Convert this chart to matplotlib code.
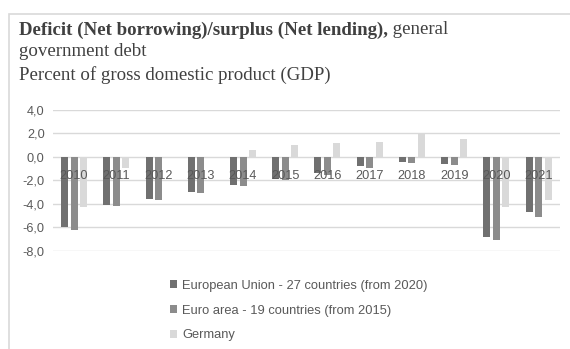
import numpy as np
import matplotlib
matplotlib.use("Agg")
import matplotlib.pyplot as plt
from matplotlib.patches import Rectangle
from matplotlib.ticker import FuncFormatter

# Government balance, % of GDP
years = ['2010', '2011', '2012', '2013', '2014', '2015',
         '2016', '2017', '2018', '2019', '2020', '2021']
eu27 = [-6.0, -4.1, -3.6, -3.0, -2.4, -1.9, -1.4, -0.8, -0.4, -0.6, -6.8, -4.7]
ea19 = [-6.2, -4.2, -3.7, -3.1, -2.5, -2.0, -1.5, -0.9, -0.5, -0.7, -7.1, -5.1]
germany = [-4.3, -0.9, 0.0, 0.0, 0.6, 1.0, 1.2, 1.3, 2.0, 1.5, -4.3, -3.7]

labels = ['European Union - 27 countries (from 2020)',
          'Euro area - 19 countries (from 2015)',
          'Germany']
colors = ['#707070', '#8c8c8c', '#d9d9d9']
text_gray = '#595959'
title_size = 13.6

fig = plt.figure(figsize=(5.7, 3.49), dpi=100)
ax = fig.add_axes([0.093, 0.281, 0.889, 0.404])

x = np.arange(len(years))
step = 0.225
width = 0.166
series = [eu27, ea19, germany]
for k, vals in enumerate(series):
    ax.bar(x + (k - 1) * step, vals, width, color=colors[k], label=labels[k], zorder=3)

ax.set_xlim(-0.5, len(years) - 0.5)
ax.set_ylim(-8, 4)
ax.set_yticks(np.arange(-8, 4.1, 2))
ax.yaxis.set_major_formatter(FuncFormatter(lambda v, p: f'{v:.1f}'.replace('.', ',')))
ax.tick_params(axis='y', length=0, pad=6, labelsize=9.2, labelcolor=text_gray)
ax.set_xticks([])
for lbl in ax.get_yticklabels():
    lbl.set_fontfamily('Liberation Sans')
ax.grid(axis='y', color='#d9d9d9', linewidth=1, zorder=0)
for s in ax.spines.values():
    s.set_visible(False)

# year labels sit just under the zero line
for i, yr in enumerate(years):
    ax.text(i, -1.62, yr, ha='center', va='center', fontsize=9.2,
            color=text_gray, family='Liberation Sans', zorder=4)

# title
fig.text(19 / 570, 1 - 30 / 349, 'Deficit (Net borrowing)/surplus (Net lending),',
         fontsize=title_size, fontweight='bold', family='Liberation Serif',
         color='#404040', va='center')
t = fig.text(0, 1 - 30 / 349, ' general', fontsize=title_size, family='Liberation Serif',
             color='#404040', va='center')
fig.canvas.draw()
first = fig.texts[0].get_window_extent()
t.set_x(first.x1 / fig.bbox.width)
fig.text(19 / 570, 1 - 52 / 349, 'government debt', fontsize=title_size,
         family='Liberation Serif', color='#404040', va='center')
fig.text(19 / 570, 1 - 75 / 349, 'Percent of gross domestic product (GDP)', fontsize=title_size,
         family='Liberation Serif', color='#404040', va='center')

leg = fig.legend(loc='upper left', bbox_to_anchor=(158 / 570, 1 - 268 / 349),
                 frameon=False, prop={'family': 'Liberation Sans', 'size': 9.3},
                 labelspacing=1.0, handlelength=0.6, handleheight=0.6,
                 handletextpad=0.35)
for txt in leg.get_texts():
    txt.set_color(text_gray)

# outer chart frame
fig.patches.append(Rectangle((8.5 / 570, -0.05), 1.0, 1 - 13.5 / 349 + 0.05,
                             transform=fig.transFigure, fill=False,
                             edgecolor='#d9d9d9', linewidth=1.2))

fig.savefig('out.png', dpi=100)
